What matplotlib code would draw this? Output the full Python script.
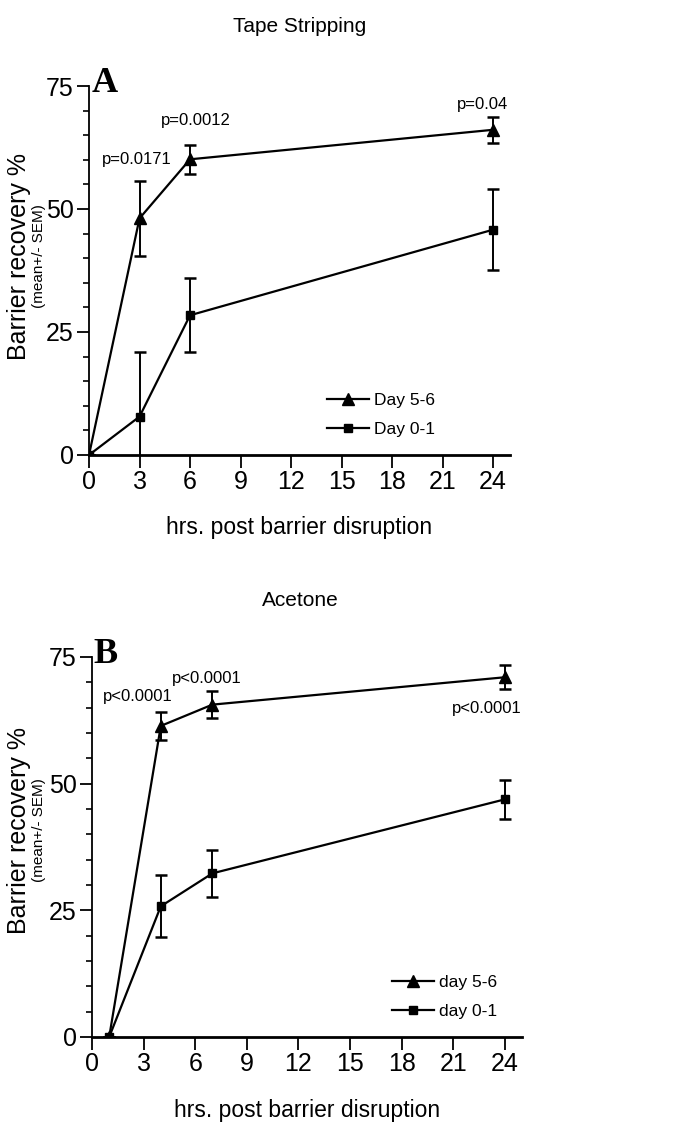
import numpy as np
import matplotlib
matplotlib.use('Agg')
import matplotlib.pyplot as plt

plt.rcParams['font.family'] = ['Liberation Sans Narrow', 'Liberation Sans', 'DejaVu Sans']

# panel A: tape stripping
hours_a = [0, 3, 6, 24]
late_a = [0, 48.1, 60.1, 66.1]
late_a_err = [0, 7.6, 3.0, 2.7]
early_a = [0, 7.8, 28.4, 45.8]
early_a_err = [0, 13.1, 7.5, 8.3]
p_a = ['p=0.0171', 'p=0.0012', 'p=0.04']

# panel B: acetone
hours_b = [1, 4, 7, 24]
late_b = [0, 61.4, 65.6, 71.0]
late_b_err = [0, 2.7, 2.6, 2.4]
early_b = [0, 25.8, 32.3, 46.9]
early_b_err = [0, 6.1, 4.7, 3.9]
p_b = ['p<0.0001', 'p<0.0001', 'p<0.0001']

xticks = [0, 3, 6, 9, 12, 15, 18, 21, 24]
yticks = [0, 25, 50, 75]

W, H = 673, 1126
fig = plt.figure(figsize=(W / 100, H / 100), dpi=100)


def px(x, y):
    return x / W, 1 - y / H


def panel(box, hrs, late, late_err, early, early_err, labels, lab_pos,
          letter, title, title_y, leg_names, leg_xy):
    left, top, right, bottom = box
    ax = fig.add_axes([left / W, 1 - bottom / H, (right - left) / W, (bottom - top) / H])
    c1 = ax.errorbar(hrs, late, yerr=late_err, color='black', lw=1.6, marker='^',
                     ms=9, capsize=4.5, capthick=1.8, elinewidth=1.4)
    c2 = ax.errorbar(hrs, early, yerr=early_err, color='black', lw=1.6, marker='s',
                     ms=6, capsize=4.5, capthick=1.8, elinewidth=1.4)
    ax.set_xlim(0, 25)
    ax.set_ylim(0, 75)
    ax.set_xticks(xticks)
    ax.set_yticks(yticks)
    ax.set_yticks(np.arange(0, 76, 5), minor=True)
    ax.spines['top'].set_visible(False)
    ax.spines['right'].set_visible(False)
    ax.spines['left'].set_linewidth(1.3)
    ax.spines['bottom'].set_linewidth(2.0)
    ax.tick_params(axis='both', which='major', length=9, width=1.3, labelsize=18, pad=2)
    ax.tick_params(axis='y', which='minor', length=4, width=1.2)
    ax.set_xlabel('hrs. post barrier disruption', fontsize=16.5, labelpad=16)
    for (tx, ty), s in zip(lab_pos, labels):
        fig.text(*px(tx, ty), s, fontsize=12, ha='center', va='center')
    fig.text(*px(105, top + 6), letter, family='Liberation Serif',
             fontweight='bold', fontsize=26, ha='center', va='baseline')
    fig.text(*px(300, title_y), title, fontsize=15, ha='center', va='center')
    ax.legend([c1[0], c2[0]], leg_names, loc='center left',
              bbox_to_anchor=px(*leg_xy), bbox_transform=fig.transFigure,
              frameon=False, fontsize=12.5, handlelength=2.4, handletextpad=0.3,
              labelspacing=0.75, borderaxespad=0, borderpad=0)
    return ax


ax_a = panel((89, 86, 510, 455), hours_a, late_a, late_a_err,
             early_a, early_a_err, p_a, [(137, 159), (196, 120), (483, 104)],
             'A', 'Tape Stripping', 26, ['Day 5-6', 'Day 0-1'], (327, 415))
ax_b = panel((92, 657, 522, 1037), hours_b, late_b, late_b_err,
             early_b, early_b_err, p_b, [(138, 697), (207, 679), (487, 708)],
             'B', 'Acetone', 601, ['day 5-6', 'day 0-1'], (392, 997))

# two-line y labels
for yc in (256, 830):
    fig.text(*px(19, yc), 'Barrier recovery %', fontsize=18, rotation=90,
             ha='center', va='center')
    fig.text(*px(39, yc), '(mean+/- SEM)', fontsize=11, rotation=90,
             ha='center', va='center')

plt.savefig('out.png', dpi=100)
plt.close()
